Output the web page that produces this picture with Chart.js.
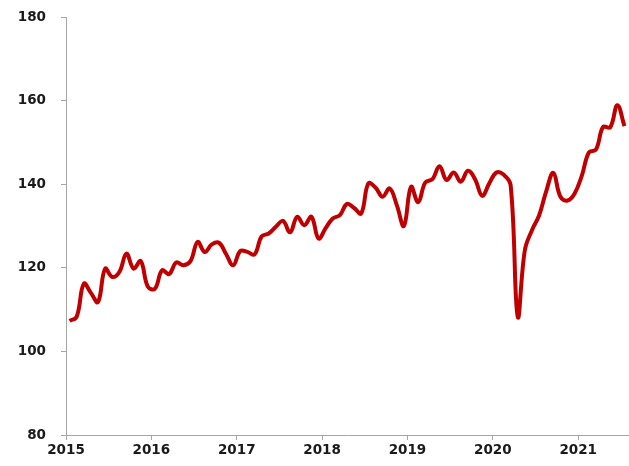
<!DOCTYPE html>
<html>
<head>
<meta charset="utf-8">
<script src="https://cdn.jsdelivr.net/npm/chart.js@4.4.1/dist/chart.umd.min.js"></script>
<style>
  html, body { margin: 0; padding: 0; background: #fff; }
  #wrap { width: 629px; height: 466px; }
</style>
</head>
<body>
<div id="wrap"><canvas id="chart" width="629" height="466"></canvas></div>
<script>
// year labels on the x axis, one per January
const years = ['2015', '2016', '2017', '2018', '2019', '2020', '2021'];

// monthly index values, Jan 2015 .. Jul 2021
const values2015 = [107.3, 108.3, 116.2, 114.0, 111.8, 119.8, 117.8, 119.0, 123.4, 119.8, 121.6, 115.5];
const values2016 = [115.0, 119.4, 118.5, 121.3, 120.6, 121.6, 126.2, 123.8, 125.6, 126.0, 123.3, 120.6];
const values2017 = [124.0, 123.8, 123.2, 127.5, 128.2, 129.8, 131.2, 128.5, 132.2, 130.2, 132.2, 127.0];
const values2018 = [129.5, 131.8, 132.6, 135.3, 134.3, 133.0, 140.2, 139.2, 137.0, 139.0, 135.0, 130.0];
const values2019 = [139.4, 135.7, 140.4, 141.2, 144.3, 141.0, 142.8, 140.6, 143.2, 141.2, 137.2, 140.2];
const values2020 = [142.8, 142.3, 139.8, 108.3, 124.2, 129.0, 132.5, 138.3, 142.7, 137.0, 136.1, 137.8];
const values2021 = [142.0, 147.6, 148.3, 153.7, 153.6, 158.9, 153.9];

const values = [].concat(values2015, values2016, values2017, values2018, values2019, values2020, values2021);

const axisColor = '#a6a6a6';
const textColor = '#1a1a1a';
const tickFont = { family: 'DejaVu Sans', size: 13.5, weight: 'bold' };

const ctx = document.getElementById('chart').getContext('2d');
new Chart(ctx, {
    type: 'line',
    data: {
        datasets: [{
            data: values.map((v, i) => ({ x: i, y: v })),
            borderColor: '#c00000',
            borderWidth: 4,
            tension: 0.4,
            pointRadius: 0,
            fill: false
        }]
    },
    options: {
        responsive: false,
        animation: false,
        layout: { padding: { top: 17, right: 1, left: 0, bottom: 0 } },
        plugins: { legend: { display: false }, tooltip: { enabled: false } },
        scales: {
            x: {
                type: 'linear',
                min: -0.5,
                max: values.length - 0.5,
                afterBuildTicks: scale => {
                    // one tick at the start of every year
                    scale.ticks = years.map((y, i) => ({ value: i * 12 - 0.5 }));
                },
                afterFit: scale => { scale.height = 31; },
                grid: { drawOnChartArea: false, color: axisColor, tickLength: 5 },
                border: { color: axisColor, width: 1 },
                ticks: {
                    autoSkip: false,
                    maxRotation: 0,
                    padding: 2,
                    color: textColor,
                    font: tickFont,
                    callback: (v, i) => years[i]
                }
            },
            y: {
                min: 80,
                max: 180,
                afterFit: scale => {
                    scale.width = 66;
                    scale.paddingTop = 0;
                    scale.paddingBottom = 0;
                },
                grid: { drawOnChartArea: false, color: axisColor, tickLength: 5 },
                border: { color: axisColor, width: 1 },
                ticks: {
                    stepSize: 20,
                    padding: 15,
                    color: textColor,
                    font: tickFont
                }
            }
        }
    }
});
</script>
</body>
</html>
